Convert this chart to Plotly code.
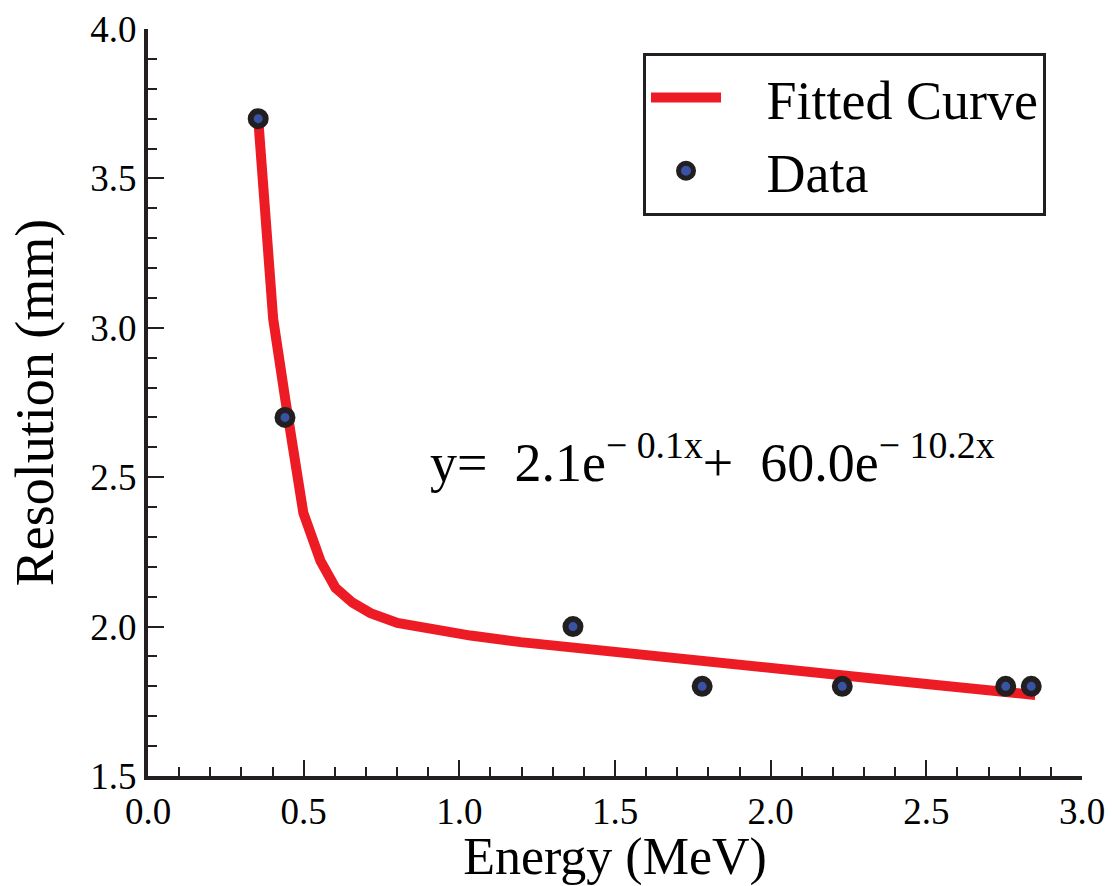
import plotly.graph_objects as go

# Measured data points (Energy in MeV, Resolution in mm)
data_energy = [0.354, 0.44, 1.365, 1.78, 2.23, 2.755, 2.837]
data_resolution = [3.70, 2.70, 2.00, 1.80, 1.80, 1.80, 1.80]

# Fitted curve
fit_energy = [0.354, 0.38, 0.402, 0.441, 0.463, 0.499, 0.554, 0.602, 0.657, 0.715,
              0.801, 0.908, 1.036, 1.197, 1.40, 1.648, 2.00, 2.25, 2.50, 2.755, 2.85]
fit_resolution = [3.70, 3.35, 3.03, 2.76, 2.62, 2.38, 2.22, 2.13, 2.08, 2.045,
                  2.012, 1.99, 1.97, 1.948, 1.925, 1.898, 1.861, 1.835, 1.808, 1.781, 1.771]

x_tick_values = [0.0, 0.5, 1.0, 1.5, 2.0, 2.5, 3.0]
y_tick_values = [1.5, 2.0, 2.5, 3.0, 3.5, 4.0]

series_names = ["Fitted Curve", "Data"]
equation_text = "y= &nbsp;2.1e<sup>− 0.1x</sup>+ &nbsp;60.0e<sup>− 10.2x</sup>"

RED = "#ed1c24"
DARK = "#231f20"
BLUE = "#3953a4"
FONT = "Liberation Serif"
PAD = "&nbsp;&nbsp;&nbsp;"

fig = go.Figure()
fig.add_trace(go.Scatter(
    x=fit_energy, y=fit_resolution, mode="lines", name=PAD + series_names[0],
    line=dict(color=RED, width=10),
))
fig.add_trace(go.Scatter(
    x=data_energy, y=data_resolution, mode="markers", name=PAD + series_names[1],
    marker=dict(color=BLUE, size=15, line=dict(color=DARK, width=6)),
))

fig.add_annotation(
    text=equation_text, xref="paper", yref="paper", x=0.30, y=0.425,
    xanchor="left", yanchor="middle", showarrow=False,
    font=dict(family=FONT, size=54, color="black"),
)

axis_common = dict(
    showline=True, linecolor=DARK, linewidth=4, mirror=False,
    showgrid=False, zeroline=False, automargin=False,
    ticks="inside", ticklen=16, tickwidth=2, tickcolor=DARK,
    tickfont=dict(family=FONT, size=37, color="black"),
    tickmode="array", tickformat=".1f",
)

fig.update_xaxes(range=[0, 3.0], tickvals=x_tick_values,
                 minor=dict(ticks="inside", ticklen=9, tickwidth=2, tickcolor=DARK, dtick=0.1, tick0=0),
                 title=dict(text="Energy (MeV)", font=dict(family=FONT, size=52, color="black"), standoff=11),
                 **axis_common)
fig.update_yaxes(range=[1.5, 4.0], tickvals=y_tick_values,
                 minor=dict(ticks="inside", ticklen=9, tickwidth=2, tickcolor=DARK, dtick=0.1, tick0=1.5),
                 title=dict(text="Resolution (mm)", font=dict(family=FONT, size=54, color="black"), standoff=20),
                 **axis_common)

fig.update_layout(
    width=1112, height=886,
    margin=dict(l=148, r=30, t=29, b=110),
    plot_bgcolor="white", paper_bgcolor="white",
    showlegend=True,
    legend=dict(
        x=0.53, y=0.968, xanchor="left", yanchor="top",
        bgcolor="white", bordercolor=DARK, borderwidth=3,
        font=dict(family=FONT, size=54, color="black"),
        itemwidth=70,
    ),
)

fig.write_html("out.html")
